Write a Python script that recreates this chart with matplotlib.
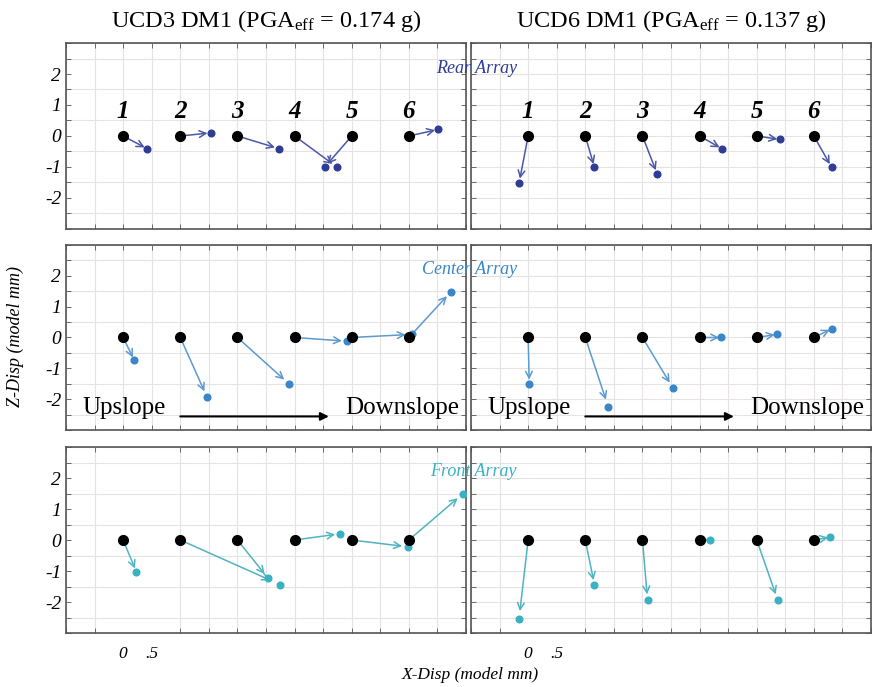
import numpy as np
import matplotlib.pyplot as plt
from matplotlib.ticker import MultipleLocator

plt.rcParams['font.family'] = ['Liberation Serif', 'DejaVu Serif']
plt.rcParams['mathtext.fontset'] = 'custom'
plt.rcParams['mathtext.rm'] = 'Liberation Serif'
plt.rcParams['mathtext.it'] = 'Liberation Serif:italic'

# sensor base positions along the slope (model mm)
sensor_x = [0, 1, 2, 3, 4, 5]
sensor_ids = ['1', '2', '3', '4', '5', '6']

titles = [r'UCD3 DM1 (PGA$_{\mathrm{eff}}$ = 0.174 g)',
          r'UCD6 DM1 (PGA$_{\mathrm{eff}}$ = 0.137 g)']
arrays = ['Rear Array', 'Center Array', 'Front Array']
array_colors = ['#2f3c96', '#3a86c8', '#38b2c2']
line_colors = ['#4a58a8', '#5c9ad0', '#4fb4c2']

# final displacement of each sensor (dx, dz) in model mm
ucd3_rear_dx = [0.42, 0.53, 0.73, 0.74, -0.47, 0.51]
ucd3_rear_dz = [-0.41, 0.10, -0.41, -1.00, -1.00, 0.21]
ucd3_center_dx = [0.19, 0.47, 0.91, 0.92, 1.05, 0.74]
ucd3_center_dz = [-0.72, -1.94, -1.52, -0.12, 0.10, 1.49]
ucd3_front_dx = [0.23, 1.75, 0.53, 0.79, 0.98, 0.95]
ucd3_front_dz = [-1.02, -1.44, -1.22, 0.20, -0.22, 1.50]

ucd6_rear_dx = [-0.16, 0.16, 0.26, 0.39, 0.40, 0.31]
ucd6_rear_dz = [-1.53, -1.01, -1.23, -0.41, -0.11, -1.01]
ucd6_center_dx = [0.02, 0.40, 0.53, 0.38, 0.35, 0.31]
ucd6_center_dz = [-1.52, -2.24, -1.63, 0.00, 0.10, 0.28]
ucd6_front_dx = [-0.16, 0.16, 0.09, 0.18, 0.37, 0.28]
ucd6_front_dz = [-2.55, -1.44, -1.95, 0.00, -1.95, 0.09]

panels = [
    [(ucd3_rear_dx, ucd3_rear_dz), (ucd6_rear_dx, ucd6_rear_dz)],
    [(ucd3_center_dx, ucd3_center_dz), (ucd6_center_dx, ucd6_center_dz)],
    [(ucd3_front_dx, ucd3_front_dz), (ucd6_front_dx, ucd6_front_dz)],
]

y_ticks = [-2, -1, 0, 1, 2]
x_ticks = [0, 0.5]
x_ticklabels = ['0', '.5']

fig = plt.figure(figsize=(8.74, 6.87), dpi=100)

lefts = [0.0755, 0.5389]
bottoms = [0.6667, 0.3741, 0.0786]
heights = [0.2707, 0.2693, 0.2707]
width = 0.4577

for r in range(3):
    for c in range(2):
        ax = fig.add_axes([lefts[c], bottoms[r], width, heights[r]])
        ax.set_xlim(-1, 6)
        ax.set_ylim(-3, 3)
        ax.xaxis.set_minor_locator(MultipleLocator(0.5))
        ax.yaxis.set_minor_locator(MultipleLocator(0.5))
        ax.grid(True, which='minor', color='#e6e2e2', linewidth=0.8)
        ax.set_axisbelow(True)
        ax.tick_params(which='both', direction='in', top=True, right=True,
                       length=3.5, width=0.6, color='#555555')
        ax.set_xticks([])
        if c == 0:
            ax.set_yticks(y_ticks)
            ax.set_yticklabels([str(v) for v in y_ticks], fontsize=14,
                               style='italic')
        else:
            ax.set_yticks([])
        if r == 2:
            ax.set_xticks(x_ticks)
            ax.set_xticklabels(x_ticklabels, fontsize=12.5, style='italic')
            ax.tick_params(axis='x', which='major', pad=9, length=0)
        for s in ax.spines.values():
            s.set_color('#555555')
            s.set_linewidth(1.2)

        dx, dz = panels[r][c]
        for i, x0 in enumerate(sensor_x):
            ax.annotate('', xy=(x0 + 0.9 * dx[i], 0.9 * dz[i]), xytext=(x0, 0),
                        arrowprops=dict(arrowstyle='->', color=line_colors[r],
                                        lw=1.1, mutation_scale=12,
                                        shrinkA=0, shrinkB=0))
            ax.plot(x0 + dx[i], dz[i], 'o', color=array_colors[r],
                    markersize=4.8, zorder=4)
        ax.plot(sensor_x, [0] * len(sensor_x), 'o', color='black',
                markersize=7, zorder=5)

        if r == 0:
            for x0, lab in zip(sensor_x, sensor_ids):
                ax.text(x0, 0.78, lab, ha='center', va='center', fontsize=18,
                        style='italic', weight='bold')
            ax.text(2.5, 3.3, titles[c], ha='center', va='bottom',
                    fontsize=17.5)
        if r == 1:
            ax.text(-0.72, -2.3, 'Upslope', ha='left', va='center',
                    fontsize=18)
            ax.text(5.88, -2.3, 'Downslope', ha='right', va='center',
                    fontsize=18)
            ax.annotate('', xy=(3.6, -2.56), xytext=(1.0, -2.56),
                        arrowprops=dict(arrowstyle='-|>', color='black',
                                        lw=1.5, mutation_scale=12,
                                        shrinkA=0, shrinkB=0))

for r, name in enumerate(arrays):
    fig.text(517 / 874, [0.901, 0.607, 0.313][r], name, ha='right',
             va='center', fontsize=13, style='italic',
             color=array_colors[r])

fig.text(15 / 874, 0.51, 'Z-Disp (model mm)', rotation=90, ha='center',
         va='center', fontsize=13, style='italic')
fig.text(0.538, 0.018, 'X-Disp (model mm)', ha='center', va='center',
         fontsize=12.5, style='italic')

fig.savefig('out.png', dpi=100)
